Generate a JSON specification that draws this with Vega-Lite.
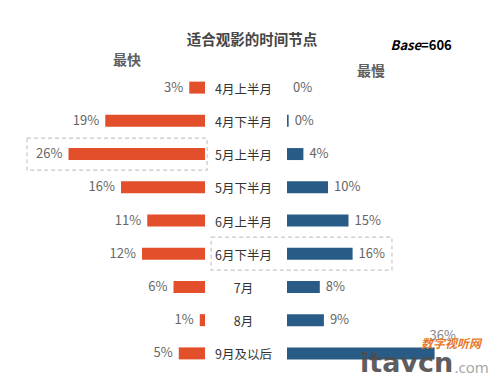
{
  "$schema": "https://vega.github.io/schema/vega-lite/v6.json",
  "width": 500,
  "height": 299,
  "autosize": {"type": "none"},
  "padding": {"top": 71, "bottom": 22, "left": 0, "right": 0},
  "background": "white",
  "config": {"view": {"stroke": null}, "font": "Noto Sans CJK SC"},
  "data": {
    "values": [
      {"period": "4月上半月", "fast": 0.03, "slow": 0},
      {"period": "4月下半月", "fast": 0.19, "slow": 0.004},
      {"period": "5月上半月", "fast": 0.26, "slow": 0.04},
      {"period": "5月下半月", "fast": 0.16, "slow": 0.10},
      {"period": "6月上半月", "fast": 0.11, "slow": 0.15},
      {"period": "6月下半月", "fast": 0.12, "slow": 0.16},
      {"period": "7月", "fast": 0.06, "slow": 0.08},
      {"period": "8月", "fast": 0.01, "slow": 0.09},
      {"period": "9月及以后", "fast": 0.05, "slow": 0.36}
    ]
  },
  "encoding": {
    "y": {"field": "period", "type": "nominal", "sort": null, "axis": null,
          "scale": {"paddingInner": 0, "paddingOuter": 0}}
  },
  "layer": [
    {
      "layer": [
        {
          "mark": {"type": "bar", "height": 12, "color": "#E34F2B"},
          "encoding": {
            "x": {"field": "fast", "type": "quantitative", "axis": null,
                  "scale": {"domain": [-0.5619, 0.3905], "reverse": true, "nice": false, "zero": false}}
          }
        },
        {
          "mark": {"type": "text", "align": "right", "baseline": "middle", "dx": -6, "fontSize": 13, "color": "#666666"},
          "encoding": {
            "x": {"field": "fast", "type": "quantitative", "axis": null,
                  "scale": {"domain": [-0.5619, 0.3905], "reverse": true, "nice": false, "zero": false}},
            "text": {"field": "fast", "type": "quantitative", "format": ".0%"}
          }
        },
        {
          "mark": {"type": "text", "align": "center", "baseline": "middle", "dy": 2, "fontSize": 12.5, "color": "#333333"},
          "encoding": {
            "x": {"datum": -0.0733, "type": "quantitative", "axis": null,
                  "scale": {"domain": [-0.5619, 0.3905], "reverse": true, "nice": false, "zero": false}},
            "text": {"field": "period", "type": "nominal"}
          }
        },
        {
          "data": {"values": [{}]},
          "mark": {"type": "bar", "height": 32, "fill": "transparent", "stroke": "#c8c8c8", "strokeWidth": 1.2, "strokeDash": [4, 3]},
          "encoding": {
            "y": {"datum": "5月上半月", "type": "nominal"},
            "x": {"datum": 0.339, "type": "quantitative", "axis": null,
                  "scale": {"domain": [-0.5619, 0.3905], "reverse": true, "nice": false, "zero": false}},
            "x2": {"datum": -0.004}
          }
        },
        {
          "data": {"values": [{}]},
          "mark": {"type": "text", "align": "center", "baseline": "middle", "dy": -47, "fontSize": 14.5, "fontWeight": "bold", "color": "#454545", "text": "适合观影的时间节点"},
          "encoding": {
            "y": {"datum": "4月上半月", "type": "nominal"},
            "x": {"datum": -0.0895, "type": "quantitative", "axis": null,
                  "scale": {"domain": [-0.5619, 0.3905], "reverse": true, "nice": false, "zero": false}}
          }
        },
        {
          "data": {"values": [{}]},
          "mark": {"type": "text", "align": "center", "baseline": "middle", "dy": -27, "fontSize": 14, "fontWeight": "bold", "color": "#606060", "text": "最快"},
          "encoding": {
            "y": {"datum": "4月上半月", "type": "nominal"},
            "x": {"datum": 0.1486, "type": "quantitative", "axis": null,
                  "scale": {"domain": [-0.5619, 0.3905], "reverse": true, "nice": false, "zero": false}}
          }
        }
      ]
    },
    {
      "layer": [
        {
          "mark": {"type": "bar", "height": 12, "color": "#285C86"},
          "encoding": {
            "x": {"field": "slow", "type": "quantitative", "axis": null,
                  "scale": {"domain": [-0.70, 0.5195], "nice": false, "zero": false}}
          }
        },
        {
          "transform": [{"filter": "datum.period !== '9月及以后'"}],
          "mark": {"type": "text", "align": "left", "baseline": "middle", "dx": 6, "fontSize": 13, "color": "#666666"},
          "encoding": {
            "x": {"field": "slow", "type": "quantitative", "axis": null,
                  "scale": {"domain": [-0.70, 0.5195], "nice": false, "zero": false}},
            "text": {"field": "slow", "type": "quantitative", "format": ".0%"}
          }
        },
        {
          "transform": [{"filter": "datum.period === '9月及以后'"}],
          "mark": {"type": "text", "align": "left", "baseline": "middle", "dx": -5, "dy": -17, "fontSize": 13, "color": "#888888"},
          "encoding": {
            "x": {"field": "slow", "type": "quantitative", "axis": null,
                  "scale": {"domain": [-0.70, 0.5195], "nice": false, "zero": false}},
            "text": {"field": "slow", "type": "quantitative", "format": ".0%"}
          }
        },
        {
          "data": {"values": [{}]},
          "mark": {"type": "bar", "height": 33, "fill": "transparent", "stroke": "#c8c8c8", "strokeWidth": 1.2, "strokeDash": [4, 3]},
          "encoding": {
            "y": {"datum": "6月下半月", "type": "nominal"},
            "x": {"datum": -0.185, "type": "quantitative", "axis": null,
                  "scale": {"domain": [-0.70, 0.5195], "nice": false, "zero": false}},
            "x2": {"datum": 0.256}
          }
        },
        {
          "data": {"values": [{}]},
          "mark": {"type": "text", "align": "center", "baseline": "middle", "dy": -16, "fontSize": 14, "fontWeight": "bold", "color": "#606060", "text": "最慢"},
          "encoding": {
            "y": {"datum": "4月上半月", "type": "nominal"},
            "x": {"datum": 0.205, "type": "quantitative", "axis": null,
                  "scale": {"domain": [-0.70, 0.5195], "nice": false, "zero": false}}
          }
        },
        {
          "data": {"values": [{}]},
          "mark": {"type": "text", "align": "right", "baseline": "middle", "dy": -42, "fontSize": 13, "fontWeight": "bold", "fontStyle": "italic", "color": "#000000", "text": "Base"},
          "encoding": {
            "y": {"datum": "4月上半月", "type": "nominal"},
            "x": {"datum": 0.327, "type": "quantitative", "axis": null,
                  "scale": {"domain": [-0.70, 0.5195], "nice": false, "zero": false}}
          }
        },
        {
          "data": {"values": [{}]},
          "mark": {"type": "text", "align": "left", "baseline": "middle", "dy": -42, "fontSize": 13, "fontWeight": "bold", "color": "#000000", "text": "=606"},
          "encoding": {
            "y": {"datum": "4月上半月", "type": "nominal"},
            "x": {"datum": 0.327, "type": "quantitative", "axis": null,
                  "scale": {"domain": [-0.70, 0.5195], "nice": false, "zero": false}}
          }
        },
        {
          "data": {"values": [{}]},
          "mark": {"type": "text", "align": "left", "baseline": "alphabetic", "dy": 19, "fontSize": 27, "fontWeight": "bold", "font": "DejaVu Sans", "color": "#4d4d4d", "opacity": 0.9, "text": "itavcn"},
          "encoding": {
            "y": {"datum": "9月及以后", "type": "nominal"},
            "x": {"datum": 0.178, "type": "quantitative", "axis": null,
                  "scale": {"domain": [-0.70, 0.5195], "nice": false, "zero": false}}
          }
        },
        {
          "data": {"values": [{}]},
          "mark": {"type": "text", "align": "left", "baseline": "alphabetic", "dy": 20, "fontSize": 15, "font": "Noto Sans", "color": "#a8a8a8", "text": ".com"},
          "encoding": {
            "y": {"datum": "9月及以后", "type": "nominal"},
            "x": {"datum": 0.4085, "type": "quantitative", "axis": null,
                  "scale": {"domain": [-0.70, 0.5195], "nice": false, "zero": false}}
          }
        },
        {
          "data": {"values": [{}]},
          "mark": {"type": "text", "align": "left", "baseline": "middle", "dy": -9, "fontSize": 12, "fontWeight": "bold", "fontStyle": "italic", "color": "#E8782A", "text": "数字视听网"},
          "encoding": {
            "y": {"datum": "9月及以后", "type": "nominal"},
            "x": {"datum": 0.327, "type": "quantitative", "axis": null,
                  "scale": {"domain": [-0.70, 0.5195], "nice": false, "zero": false}}
          }
        }
      ]
    }
  ],
  "resolve": {"scale": {"x": "independent"}}
}
